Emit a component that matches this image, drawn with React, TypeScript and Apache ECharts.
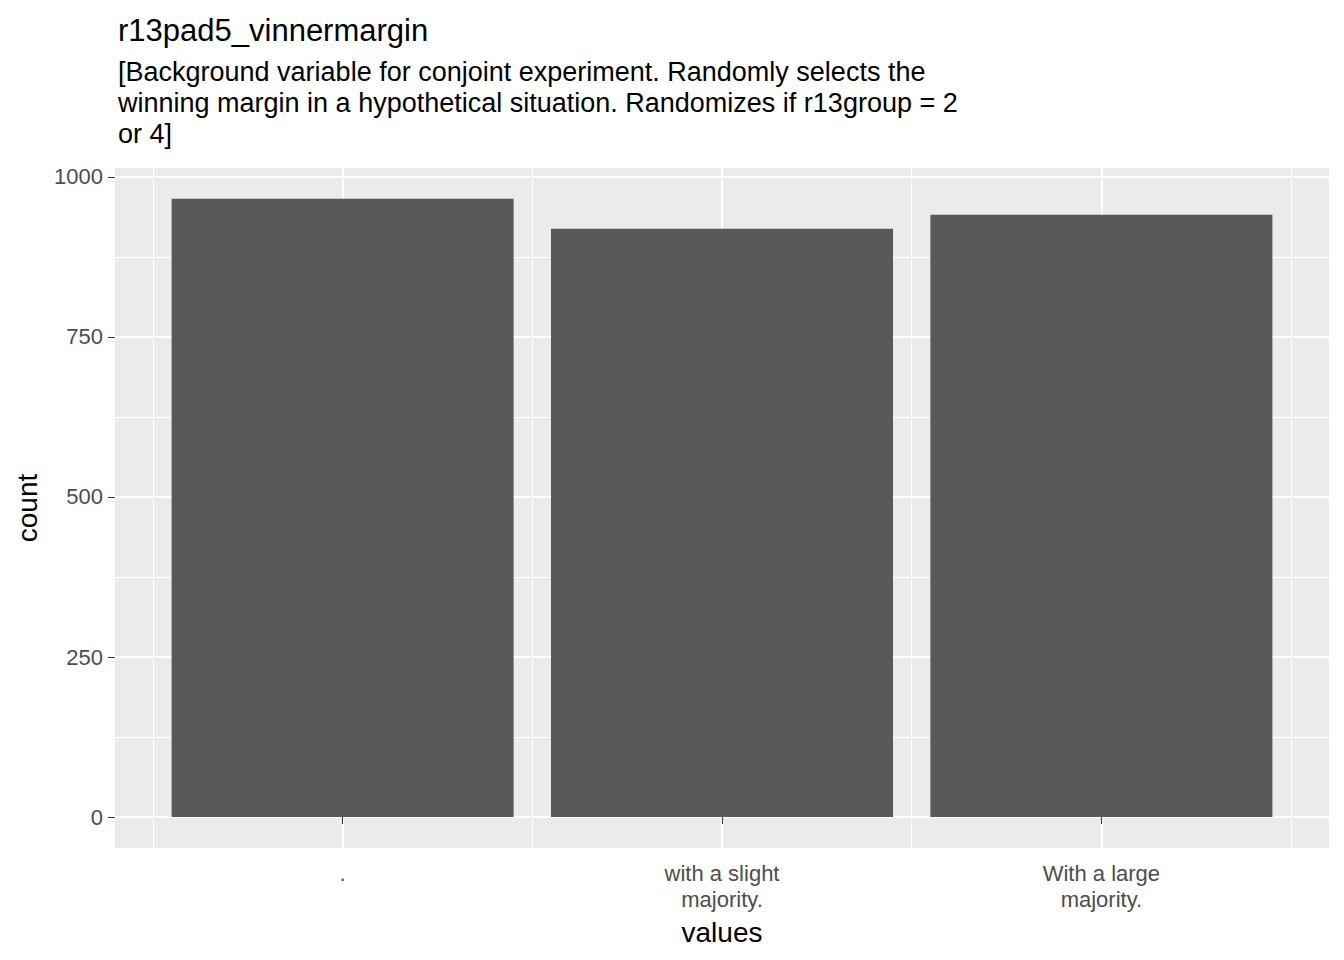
import * as echarts from "echarts"
import { useEffect, useRef } from "react"

const categories = [".", "with a slight\nmajority.", "With a large\nmajority."]
const counts = [966, 919, 941]
const yTicks = [0, 250, 500, 750, 1000]
const yMinor = [125, 375, 625, 875]
const xMinor = [0.5, 1.5, 2.5, 3.5]

const App: React.FC = () => {
    const ref = useRef<HTMLDivElement | null>(null)

    useEffect(() => {
        const chart = echarts.init(ref.current!, null, { renderer: "svg" })
        const font = "Arial, Liberation Sans, sans-serif"
        const line = (d: any[], w: number) => d.map(v => ({ ...v, lineStyle: { color: "#fff", width: w, type: "solid" } }))
        chart.setOption({
            animation: false,
            textStyle: { fontFamily: font },
            title: {
                text: "r13pad5_vinnermargin",
                subtext: "[Background variable for conjoint experiment. Randomly selects the\nwinning margin in a hypothetical situation. Randomizes if r13group = 2\nor 4]",
                left: 113, top: 10,
                textStyle: { fontSize: 31, fontWeight: "normal", color: "#000", fontFamily: font },
                subtextStyle: { fontSize: 27, color: "#000", lineHeight: 31, fontFamily: font },
                itemGap: 10
            },
            grid: { left: 115, right: 15, top: 168, bottom: 112, show: true, backgroundColor: "#EBEBEB", borderWidth: 0 },
            xAxis: {
                type: "value", min: 0.4, max: 3.6,
                name: "values", nameLocation: "middle", nameGap: 70,
                nameTextStyle: { fontSize: 28, color: "#000" },
                splitLine: { show: false },
                axisLine: { show: false },
                axisTick: { show: true, customValues: [1, 2, 3], length: 7, lineStyle: { color: "#333" } },
                axisLabel: {
                    customValues: [1, 2, 3], color: "#4D4D4D", fontSize: 22, lineHeight: 26, margin: 12,
                    formatter: (v: number) => categories[Math.round(v) - 1] ?? ""
                }
            },
            yAxis: {
                type: "value", min: -48.4, max: 1014,
                name: "count", nameLocation: "middle", nameGap: 74,
                nameTextStyle: { fontSize: 28, color: "#000" },
                splitLine: { show: false },
                axisLine: { show: false },
                axisTick: { show: true, customValues: yTicks, length: 7, lineStyle: { color: "#333" } },
                axisLabel: { customValues: yTicks, color: "#4D4D4D", fontSize: 22, margin: 12, formatter: (v: number) => String(v) }
            },
            series: [
                {
                    type: "line", data: [], z: 0, silent: true,
                    markLine: {
                        z: 0, symbol: "none", silent: true, label: { show: false },
                        data: [
                            ...line(yMinor.map(v => ({ yAxis: v })), 1),
                            ...line(yTicks.map(v => ({ yAxis: v })), 2),
                            ...line(xMinor.map(v => ({ xAxis: v })), 1),
                            ...line([1, 2, 3].map(v => ({ xAxis: v })), 2)
                        ]
                    }
                },
                {
                    type: "bar", z: 10, barWidth: 342,
                    data: counts.map((c, i) => [i + 1, c]),
                    itemStyle: { color: "#595959" }
                }
            ]
        })
        return () => chart.dispose()
    }, [])

    return <div ref={ref} style={{ position: "absolute", left: 0, top: 0, width: 1344, height: 960 }}></div>
}

export default App
